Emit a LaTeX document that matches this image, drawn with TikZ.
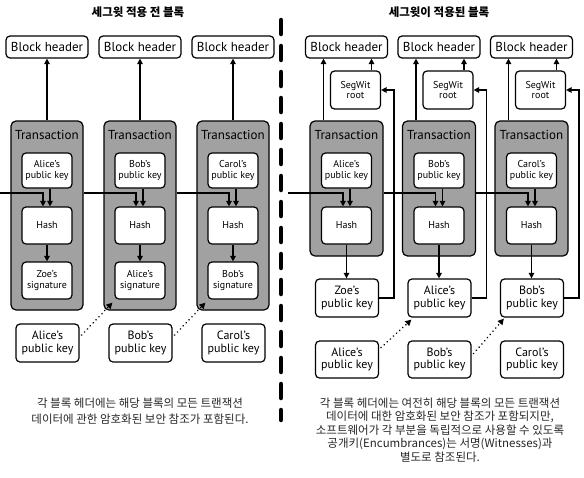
\documentclass[tikz,border=0pt]{standalone}
\usepackage{fontspec}
\setmainfont{PT Sans}
\newfontfamily\kr{Noto Sans CJK KR}
\usetikzlibrary{arrows.meta,calc}
\begin{document}
\begin{tikzpicture}[x=1pt,y=-1pt,
  box/.style={draw, rounded corners=4pt, fill=white, line width=1.2pt, align=center, inner sep=0pt},
  hdr/.style={box, minimum width=82pt, minimum height=22pt, font=\fontsize{13}{14}\selectfont},
  txbox/.style={draw, rounded corners=5pt, fill=black!37, line width=1.2pt, inner sep=0pt},
  txlabel/.style={font=\fontsize{13}{14}\selectfont, inner sep=0pt},
  small/.style={box, minimum width=50pt, minimum height=35pt, font=\fontsize{10}{10.5}\selectfont},
  keybox/.style={box, minimum width=63pt, minimum height=38pt, font=\fontsize{12}{12.5}\selectfont},
  arr/.style={-{Triangle[length=5.5pt,width=5.5pt]}, line width=1.3pt},
  dotarr/.style={-{Triangle[length=6pt,width=6pt]}, line width=1.8pt, line cap=round, dash pattern=on 0.01pt off 4.2pt},
  divider/.style={line width=4.5pt, line cap=round, dash pattern=on 14pt off 12pt},
  titlefont/.style={font=\kr\bfseries\fontsize{11.5}{13}\selectfont, inner sep=0pt},
  capfont/.style={font=\kr\fontsize{11.5}{16}\selectfont, align=center, inner sep=0pt, text=black!85}
]
\useasboundingbox (0,0) rectangle (584,477);

\node[titlefont] (tL) at (138,12) {세그윗 적용 전 블록};
\node[titlefont] (tR) at (439,12) {세그윗이 적용된 블록};
\coordinate (dTop) at (281,20);
\coordinate (dBot) at (281,420);
\draw[divider] (dTop) -- (dBot);

% ---------- left panel ----------
\foreach \i/\c/\pk/\sg/\bk in {1/47/Alice/Zoe/Alice,2/140/Bob/Alice/Bob,3/233/Carol/Bob/Carol}{
  \node[hdr] (LH\i) at (\c,47) {Block header};
  \node[txbox, minimum width=72pt, minimum height=189pt] (LT\i) at (\c,215.5) {};
  \node[txlabel] (LTl\i) at (\c,135) {Transaction};
  \node[small] (LP\i) at (\c,170.5) {\pk's\\public key};
  \node[small, minimum height=37pt] (LHs\i) at (\c,225.5) {Hash};
  \node[small, minimum height=37pt] (LS\i) at (\c,280.5) {\sg's\\signature};
  \node[keybox] (LB\i) at (\c+0.5,343) {\bk's\\public key};
  \draw[arr] (LT\i.north) -- (LH\i.south);
  \draw[arr] ($(LP\i.south)+(3,0)$) -- ($(LHs\i.north)+(3,0)$);
  \draw[arr] (LHs\i) -- (LS\i);
}
\coordinate (Lin) at (0,193);
\draw[arr] (Lin) -| ($(LHs1.north)+(-4,0)$);
\draw[arr] (LT1.east |- Lin) -| ($(LHs2.north)+(-4,0)$);
\draw[arr] (LT2.east |- Lin) -| ($(LHs3.north)+(-4,0)$);
\draw[dotarr] ($(LB1.east)+(2,-8)$) -- ($(LT2.south west)+(9,-8)$);
\draw[dotarr] ($(LB2.east)+(2,-8)$) -- ($(LT3.south west)+(9,-8)$);

% ---------- right panel ----------
\foreach \i/\c/\pk/\ok/\bk in {1/346.5/Alice/Zoe/Alice,2/439/Bob/Alice/Bob,3/531.5/Carol/Bob/Carol}{
  \node[hdr] (RH\i) at (\c,47) {Block header};
  \node[small, minimum height=38pt] (RR\i) at (\c+9,90) {SegWit\\root};
  \node[txbox, minimum width=73pt, minimum height=135pt] (RT\i) at (\c,188.5) {};
  \node[txlabel] (RTl\i) at (\c,135) {Transaction};
  \node[small] (RP\i) at (\c,170.5) {\pk's\\public key};
  \node[small, minimum height=37pt] (RHs\i) at (\c,225.5) {Hash};
  \node[keybox] (RO\i) at (\c+0.5,298) {\ok's\\public key};
  \node[keybox, minimum height=37pt] (RB\i) at (\c+0.5,359.5) {\bk's\\public key};
  \coordinate (ra\i) at ($(RT\i.north)+(-23,0)$);
  \draw[arr] (ra\i) -- (ra\i |- RH\i.south);
  \coordinate (rb\i) at ($(RR\i.north)+(16,0)$);
  \draw[arr] (rb\i) -- (rb\i |- RH\i.south);
  \draw[arr] ($(RP\i.south)+(3.5,0)$) -- ($(RHs\i.north)+(3.5,0)$);
  \draw[arr] (RHs\i.south) -- (RHs\i.south |- RO\i.north);
  \coordinate (rs\i) at ($(RR\i.east)+(13,0)$);
  \draw[arr] (RO\i.east) -| (rs\i) -- (RR\i.east);
}
\coordinate (Rin) at (288,193);
\draw[arr] (Rin) -| ($(RHs1.north)+(-3.5,0)$);
\draw[arr] (RT1.east |- Rin) -| ($(RHs2.north)+(-3.5,0)$);
\draw[arr] (RT2.east |- Rin) -| ($(RHs3.north)+(-3.5,0)$);
\draw[dotarr] ($(RB1.east)+(2,-12)$) -- ($(RO2.south west)+(4,2)$);
\draw[dotarr] ($(RB2.east)+(2,-6)$) -- ($(RO3.south west)+(4,1)$);

% ---------- captions ----------
\node[capfont] (cL) at (140,411) {각 블록 헤더에는 해당 블록의 모든 트랜잭션\\데이터에 관한 암호화된 보안 참조가 포함된다.};
\node[capfont, font=\kr\fontsize{11.5}{13.5}\selectfont] (cR) at (440,430) {각 블록 헤더에는 여전히 해당 블록의 모든 트랜잭션\\데이터에 대한 암호화된 보안 참조가 포함되지만,\\소프트웨어가 각 부분을 독립적으로 사용할 수 있도록\\공개키(Encumbrances)는 서명(Witnesses)과\\별도로 참조된다.};
\end{tikzpicture}
\end{document}
